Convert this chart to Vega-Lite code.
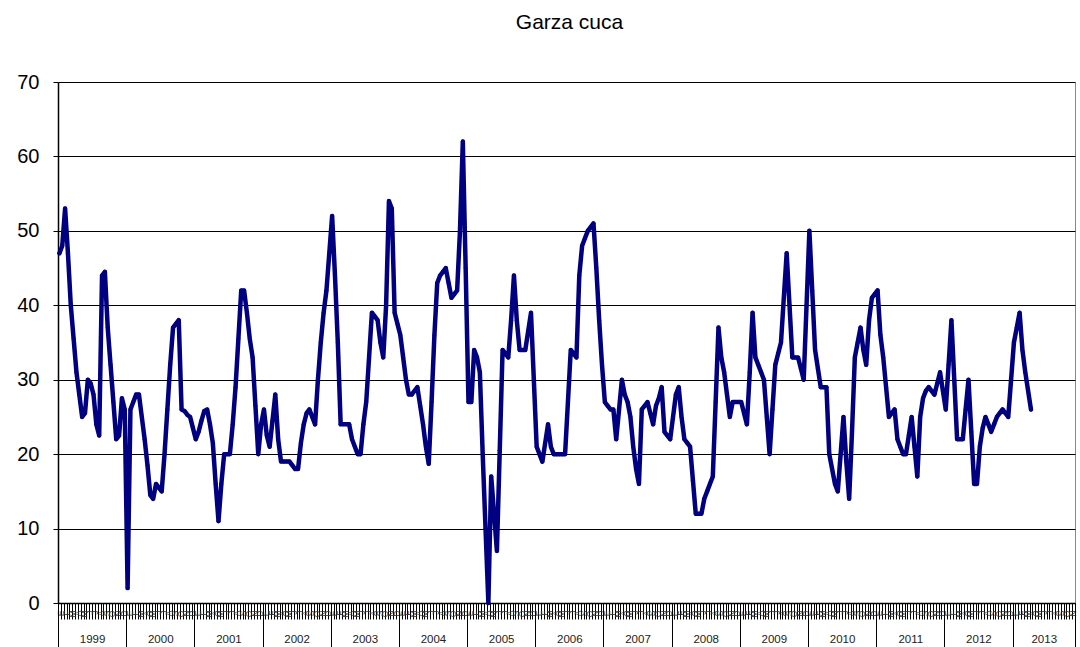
{
  "$schema": "https://vega.github.io/schema/vega-lite/v6.json",
  "width": 1017,
  "height": 521,
  "autosize": {"type": "none"},
  "padding": {"left": 58, "top": 82, "right": 5, "bottom": 44},
  "background": "white",
  "title": {"text": "Garza cuca", "fontSize": 21, "fontWeight": "normal", "font": "Liberation Sans", "color": "#000000", "anchor": "middle", "offset": 39, "dx": 3},
  "config": {"view": {"stroke": "#888888", "strokeWidth": 1}, "font": "Liberation Sans"},
  "data": {"values": [
    {"n":0,"v":47},{"n":1,"v":48},{"n":2,"v":53},{"n":3,"v":47},{"n":4,"v":40},{"n":5,"v":35.5},{"n":6,"v":31},{"n":7,"v":28},{"n":8,"v":25},{"n":9,"v":25.5},
    {"n":10,"v":30},{"n":11,"v":29.5},{"n":12,"v":28},{"n":13,"v":24},{"n":14,"v":22.5},{"n":15,"v":44},{"n":16,"v":44.5},{"n":17,"v":37},{"n":18,"v":32},{"n":19,"v":27},
    {"n":20,"v":22},{"n":21,"v":22.5},{"n":22,"v":27.5},{"n":23,"v":26},{"n":24,"v":2},{"n":25,"v":26},{"n":26,"v":27},{"n":27,"v":28},{"n":28,"v":28},{"n":29,"v":25},
    {"n":30,"v":22},{"n":31,"v":18.5},{"n":32,"v":14.5},{"n":33,"v":14},{"n":34,"v":16},{"n":35,"v":15.5},{"n":36,"v":15},{"n":37,"v":20},{"n":38,"v":26},{"n":39,"v":32},
    {"n":40,"v":37},{"n":41,"v":37.5},{"n":42,"v":38},{"n":43,"v":26},{"n":44,"v":25.8},{"n":45,"v":25.3},{"n":46,"v":25},{"n":47,"v":23.5},{"n":48,"v":22},{"n":49,"v":23},
    {"n":50,"v":24.5},{"n":51,"v":25.8},{"n":52,"v":26},{"n":53,"v":24},{"n":54,"v":21.5},{"n":55,"v":16},{"n":56,"v":11},{"n":57,"v":16},{"n":58,"v":20},{"n":59,"v":20},
    {"n":60,"v":20},{"n":61,"v":24},{"n":62,"v":29},{"n":63,"v":35.5},{"n":64,"v":42},{"n":65,"v":42},{"n":66,"v":39},{"n":67,"v":35.5},{"n":68,"v":33},{"n":69,"v":26.5},
    {"n":70,"v":20},{"n":71,"v":24},{"n":72,"v":26},{"n":73,"v":22.5},{"n":74,"v":21},{"n":75,"v":24.5},{"n":76,"v":28},{"n":77,"v":22},{"n":78,"v":19},{"n":79,"v":19},
    {"n":80,"v":19},{"n":81,"v":19},{"n":82,"v":18.5},{"n":83,"v":18},{"n":84,"v":18},{"n":85,"v":21.5},{"n":86,"v":24},{"n":87,"v":25.5},{"n":88,"v":26},{"n":89,"v":25},
    {"n":90,"v":24},{"n":91,"v":30},{"n":92,"v":35},{"n":93,"v":39},{"n":94,"v":42},{"n":95,"v":47},{"n":96,"v":52},{"n":97,"v":44},{"n":98,"v":35},{"n":99,"v":24},
    {"n":100,"v":24},{"n":101,"v":24},{"n":102,"v":24},{"n":103,"v":22},{"n":104,"v":21},{"n":105,"v":20},{"n":106,"v":20},{"n":107,"v":24},{"n":108,"v":27},{"n":109,"v":33},
    {"n":110,"v":39},{"n":111,"v":38.5},{"n":112,"v":38},{"n":113,"v":35},{"n":114,"v":33},{"n":115,"v":40},{"n":116,"v":54},{"n":117,"v":53},{"n":118,"v":39},{"n":119,"v":37.5},
    {"n":120,"v":36},{"n":121,"v":33},{"n":122,"v":30},{"n":123,"v":28},{"n":124,"v":28},{"n":125,"v":28.5},{"n":126,"v":29},{"n":127,"v":26.5},{"n":128,"v":24},{"n":129,"v":21},
    {"n":130,"v":18.7},{"n":131,"v":27},{"n":132,"v":36},{"n":133,"v":43},{"n":134,"v":44},{"n":135,"v":44.5},{"n":136,"v":45},{"n":137,"v":43},{"n":138,"v":41},{"n":139,"v":41.5},
    {"n":140,"v":42},{"n":141,"v":50},{"n":142,"v":62},{"n":143,"v":45},{"n":144,"v":27},{"n":145,"v":27},{"n":146,"v":34},{"n":147,"v":33},{"n":148,"v":31},{"n":149,"v":20},
    {"n":150,"v":10},{"n":151,"v":0},{"n":152,"v":17},{"n":153,"v":12},{"n":154,"v":7},{"n":155,"v":20.5},{"n":156,"v":34},{"n":157,"v":33.5},{"n":158,"v":33},{"n":159,"v":38},
    {"n":160,"v":44},{"n":161,"v":38},{"n":162,"v":34},{"n":163,"v":34},{"n":164,"v":34},{"n":165,"v":36.5},{"n":166,"v":39},{"n":167,"v":30},{"n":168,"v":21},{"n":169,"v":20},
    {"n":170,"v":19},{"n":171,"v":21.5},{"n":172,"v":24},{"n":173,"v":21},{"n":174,"v":20},{"n":175,"v":20},{"n":176,"v":20},{"n":177,"v":20},{"n":178,"v":20},{"n":179,"v":27},
    {"n":180,"v":34},{"n":181,"v":33.5},{"n":182,"v":33},{"n":183,"v":44},{"n":184,"v":48},{"n":185,"v":49},{"n":186,"v":50},{"n":187,"v":50.5},{"n":188,"v":51},{"n":189,"v":45},
    {"n":190,"v":38},{"n":191,"v":32},{"n":192,"v":27},{"n":193,"v":26.5},{"n":194,"v":26},{"n":195,"v":26},{"n":196,"v":22},{"n":197,"v":26},{"n":198,"v":30},{"n":199,"v":28},
    {"n":200,"v":27},{"n":201,"v":25},{"n":202,"v":21},{"n":203,"v":18},{"n":204,"v":16},{"n":205,"v":26},{"n":206,"v":26.5},{"n":207,"v":27},{"n":208,"v":25.5},{"n":209,"v":24},
    {"n":210,"v":26.5},{"n":211,"v":27.5},{"n":212,"v":29},{"n":213,"v":23},{"n":214,"v":22.5},{"n":215,"v":22},{"n":216,"v":25},{"n":217,"v":28},{"n":218,"v":29},{"n":219,"v":25},
    {"n":220,"v":22},{"n":221,"v":21.5},{"n":222,"v":21},{"n":223,"v":16.5},{"n":224,"v":12},{"n":225,"v":12},{"n":226,"v":12},{"n":227,"v":14},{"n":228,"v":15},{"n":229,"v":16},
    {"n":230,"v":17},{"n":231,"v":27},{"n":232,"v":37},{"n":233,"v":33},{"n":234,"v":31},{"n":235,"v":28},{"n":236,"v":25},{"n":237,"v":27},{"n":238,"v":27},{"n":239,"v":27},
    {"n":240,"v":27},{"n":241,"v":25.5},{"n":242,"v":24},{"n":243,"v":31},{"n":244,"v":39},{"n":245,"v":33},{"n":246,"v":32},{"n":247,"v":31},{"n":248,"v":30},{"n":249,"v":25},
    {"n":250,"v":20},{"n":251,"v":26},{"n":252,"v":32},{"n":253,"v":33.5},{"n":254,"v":35},{"n":255,"v":41},{"n":256,"v":47},{"n":257,"v":40},{"n":258,"v":33},{"n":259,"v":33},
    {"n":260,"v":33},{"n":261,"v":31.5},{"n":262,"v":30},{"n":263,"v":40},{"n":264,"v":50},{"n":265,"v":42},{"n":266,"v":34},{"n":267,"v":31.5},{"n":268,"v":29},{"n":269,"v":29},
    {"n":270,"v":29},{"n":271,"v":20},{"n":272,"v":18},{"n":273,"v":16},{"n":274,"v":15},{"n":275,"v":20},{"n":276,"v":25},{"n":277,"v":19},{"n":278,"v":14},{"n":279,"v":23},
    {"n":280,"v":33},{"n":281,"v":35},{"n":282,"v":37},{"n":283,"v":34},{"n":284,"v":32},{"n":285,"v":38},{"n":286,"v":41},{"n":287,"v":41.5},{"n":288,"v":42},{"n":289,"v":36},
    {"n":290,"v":33},{"n":291,"v":29},{"n":292,"v":25},{"n":293,"v":25.5},{"n":294,"v":26},{"n":295,"v":22},{"n":296,"v":21},{"n":297,"v":20},{"n":298,"v":20},{"n":299,"v":22.5},
    {"n":300,"v":25},{"n":301,"v":21},{"n":302,"v":17},{"n":303,"v":25},{"n":304,"v":27.5},{"n":305,"v":28.5},{"n":306,"v":29},{"n":307,"v":28.5},{"n":308,"v":28},{"n":309,"v":29.5},
    {"n":310,"v":31},{"n":311,"v":28.5},{"n":312,"v":26},{"n":313,"v":32},{"n":314,"v":38},{"n":315,"v":30},{"n":316,"v":22},{"n":317,"v":22},{"n":318,"v":22},{"n":319,"v":26},
    {"n":320,"v":30},{"n":321,"v":23},{"n":322,"v":16},{"n":323,"v":16},{"n":324,"v":21},{"n":325,"v":23.5},{"n":326,"v":25},{"n":327,"v":24},{"n":328,"v":23},{"n":329,"v":24},
    {"n":330,"v":25},{"n":331,"v":25.5},{"n":332,"v":26},{"n":333,"v":25.5},{"n":334,"v":25},{"n":335,"v":30},{"n":336,"v":35},{"n":337,"v":37},{"n":338,"v":39},{"n":339,"v":34},
    {"n":340,"v":31},{"n":341,"v":28.5},{"n":342,"v":26}
  ]},
  "layer": [
    {
      "mark": {"type": "line", "color": "#000080", "strokeWidth": 4.5, "strokeJoin": "round", "strokeCap": "round", "point": {"filled": true, "size": 16, "color": "#000080"}},
      "encoding": {
        "x": {"field": "n", "type": "quantitative", "scale": {"domain": [-0.5, 357.5], "nice": false, "zero": false},
          "axis": {"orient": "bottom", "title": null, "grid": false, "tickCount": 358, "tickOffset": -1.42, "tickSize": 16, "tickColor": "#000000", "tickWidth": 1,
            "domainColor": "#000000", "domainWidth": 1.5,
            "labelExpr": "datum.value % 2 == 1 ? ['E','F','M','A','M','J','J','A','S','O','N','D'][floor((datum.value % 24) / 2)] : ''",
            "labelAngle": -90, "labelFontSize": 8.5, "labelColor": "#333333", "labelPadding": -9, "labelOverlap": false, "labelFlush": false, "labelBound": false}},
        "y": {"field": "v", "type": "quantitative", "scale": {"domain": [0, 70], "nice": false, "zero": true},
          "axis": {"title": null, "values": [0, 10, 20, 30, 40, 50, 60, 70], "grid": true, "gridColor": "#000000", "gridWidth": 1, "gridOpacity": 1,
            "tickSize": 5, "tickColor": "#000000", "domainColor": "#000000", "domainWidth": 1.5,
            "labelFontSize": 20, "labelColor": "#000000", "labelPadding": 14, "labelFont": "Liberation Sans"}}
      }
    },
    {
      "mark": {"type": "point", "opacity": 0},
      "encoding": {
        "x": {"field": "n", "type": "quantitative",
          "axis": {"orient": "bottom", "title": null, "grid": false, "domain": false, "labels": false,
            "values": [-0.5, 23.5, 47.5, 71.5, 95.5, 119.5, 143.5, 167.5, 191.5, 215.5, 239.5, 263.5, 287.5, 311.5, 335.5, 357.5],
            "tickSize": 50, "tickColor": "#000000", "tickWidth": 1}}
      }
    },
    {
      "mark": {"type": "point", "opacity": 0},
      "encoding": {
        "x": {"field": "n", "type": "quantitative",
          "axis": {"orient": "bottom", "title": null, "grid": false, "domain": false, "ticks": false,
            "values": [11.5, 35.5, 59.5, 83.5, 107.5, 131.5, 155.5, 179.5, 203.5, 227.5, 251.5, 275.5, 299.5, 323.5, 346.5],
            "labelExpr": "'' + (1999 + floor((datum.value + 0.5) / 24))",
            "labelFontSize": 11.5, "labelColor": "#222222", "labelPadding": 30, "labelOverlap": false, "labelFlush": false, "labelBound": false}}
      }
    }
  ],
  "resolve": {"axis": {"x": "independent"}}
}
